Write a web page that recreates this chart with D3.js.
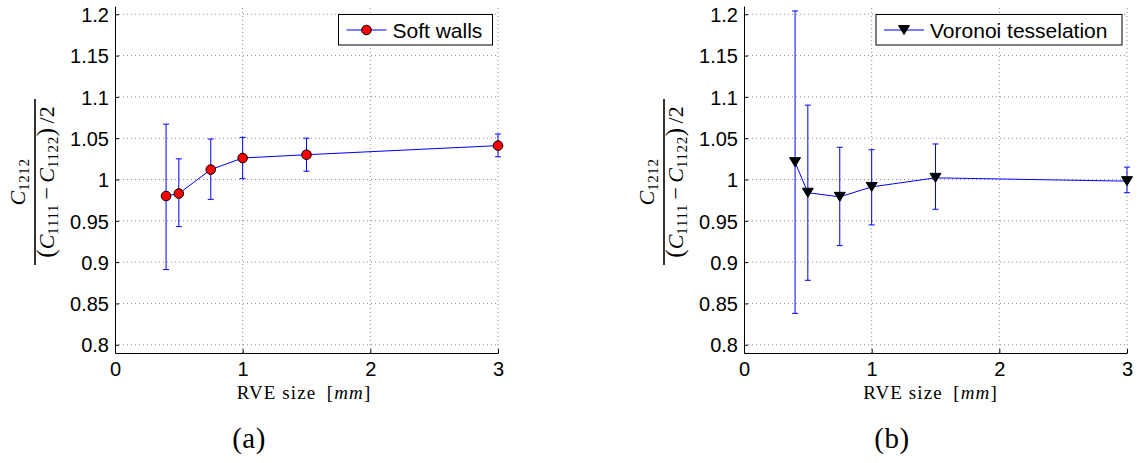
<!DOCTYPE html>
<html>
<head>
<meta charset="utf-8">
<script src="https://cdn.jsdelivr.net/npm/d3@7"></script>
<style>
  html, body { margin: 0; padding: 0; background: #fff; }
  svg { display: block; }
</style>
</head>
<body>
<svg id="chart" width="1139" height="463"></svg>
<script>
// ---------- data ----------
const rveSizes = [0.4, 0.5, 0.75, 1, 1.5, 3];

const softMean = [0.980, 0.983, 1.012, 1.026, 1.030, 1.041];
const softLow  = [0.891, 0.943, 0.976, 1.001, 1.010, 1.0275];
const softHigh = [1.067, 1.025, 1.049, 1.051, 1.050, 1.055];

const vorMean = [1.021, 0.984, 0.979, 0.991, 1.002, 0.998];
const vorLow  = [0.838, 0.878, 0.920, 0.945, 0.964, 0.984];
const vorHigh = [1.204, 1.090, 1.039, 1.036, 1.043, 1.015];

const xTicks = [0, 1, 2, 3];
const yTicks = [0.8, 0.85, 0.9, 0.95, 1, 1.05, 1.1, 1.15, 1.2];
const yTickLabels = ["0.8", "0.85", "0.9", "0.95", "1", "1.05", "1.1", "1.15", "1.2"];
const legendSoft = "Soft walls";
const legendVor = "Voronoi tesselation";
const xAxisTitle = ["RVE size", "mm"];
const panelLabels = ["(a)", "(b)"];

// ---------- drawing ----------
const svg = d3.select("#chart");
const sansFont = "'Liberation Sans', Arial, Helvetica, sans-serif";
const serifFont = "'Liberation Serif', 'Times New Roman', serif";
const blue = "#0000ff";

function drawPanel(cfg) {
  const x = d3.scaleLinear().domain([0, 3]).range([cfg.left, cfg.right]);
  const y = d3.scaleLinear().domain([0.79, 1.21]).range([353, 6]);
  const g = svg.append("g");

  // grid
  g.append("g").selectAll("line").data(yTicks).join("line")
    .attr("x1", x(0)).attr("x2", x(3))
    .attr("y1", d => y(d)).attr("y2", d => y(d))
    .attr("stroke", "#6e6e6e").attr("stroke-width", 0.8)
    .attr("stroke-dasharray", "1,3");
  g.append("g").selectAll("line").data(xTicks.slice(1)).join("line")
    .attr("x1", d => x(d)).attr("x2", d => x(d))
    .attr("y1", y(0.79)).attr("y2", y(1.21))
    .attr("stroke", "#6e6e6e").attr("stroke-width", 0.8)
    .attr("stroke-dasharray", "1,3");

  // axes
  const yAxis = d3.axisLeft(y).tickValues(yTicks)
    .tickFormat((d, i) => yTickLabels[i]).tickSizeInner(-4).tickSizeOuter(0).tickPadding(6);
  const ya = g.append("g").attr("transform", `translate(${x(0)},0)`).call(yAxis);
  ya.select(".domain").attr("stroke", "#000");
  ya.selectAll(".tick line").attr("stroke", "#000");
  ya.selectAll("text").attr("font-family", sansFont).attr("font-size", 20)
    .attr("fill", "#000").attr("dy", "0.36em");

  const xAxis = d3.axisBottom(x).tickValues(xTicks).tickFormat(d3.format("d"))
    .tickSizeInner(-4).tickSizeOuter(0).tickPadding(9);
  const xa = g.append("g").attr("transform", `translate(0,${y(0.79)})`).call(xAxis);
  xa.select(".domain").attr("stroke", "#000");
  xa.selectAll(".tick line").attr("stroke", "#000");
  xa.selectAll("text").attr("font-family", sansFont).attr("font-size", 20).attr("fill", "#000");

  // error bars
  const eb = g.append("g").attr("stroke", blue).attr("stroke-width", 1).attr("fill", "none");
  rveSizes.forEach((xv, i) => {
    const cx = x(xv);
    eb.append("line").attr("x1", cx).attr("x2", cx)
      .attr("y1", y(cfg.low[i])).attr("y2", y(cfg.high[i]));
    eb.append("line").attr("x1", cx - 3).attr("x2", cx + 3)
      .attr("y1", y(cfg.low[i])).attr("y2", y(cfg.low[i]));
    eb.append("line").attr("x1", cx - 3).attr("x2", cx + 3)
      .attr("y1", y(cfg.high[i])).attr("y2", y(cfg.high[i]));
  });

  // line
  const line = d3.line().x((d, i) => x(rveSizes[i])).y(d => y(d));
  g.append("path").datum(cfg.mean).attr("d", line)
    .attr("fill", "none").attr("stroke", blue).attr("stroke-width", 1);

  // markers
  const marker = (sel, px, py) => {
    if (cfg.markerType === "circle") {
      sel.append("circle").attr("cx", px).attr("cy", py).attr("r", 4.8)
        .attr("fill", "#ff0000").attr("stroke", "#000").attr("stroke-width", 1);
    } else {
      sel.append("path")
        .attr("d", `M${px - 5.5},${py - 4.5}L${px + 5.5},${py - 4.5}L${px},${py + 4.5}Z`)
        .attr("fill", "#000").attr("stroke", "#000").attr("stroke-width", 1);
    }
  };
  const mg = g.append("g");
  cfg.mean.forEach((v, i) => marker(mg, x(rveSizes[i]), y(v)));

  // legend
  const lg = g.append("g");
  lg.append("rect").attr("x", cfg.legX).attr("y", 14.5)
    .attr("width", cfg.legW).attr("height", 30.5)
    .attr("fill", "#fff").attr("stroke", "#000").attr("stroke-width", 1);
  lg.append("line").attr("x1", cfg.legX + 8).attr("x2", cfg.legX + 48)
    .attr("y1", 30).attr("y2", 30).attr("stroke", blue).attr("stroke-width", 1);
  marker(lg, cfg.legX + 28, 30);
  lg.append("text").attr("x", cfg.legX + 54).attr("y", 30).attr("dy", "0.36em")
    .attr("font-family", sansFont).attr("font-size", 21).attr("fill", "#000")
    .text(cfg.legend);

  // x axis title
  const xt = g.append("text").attr("x", cfg.titleX).attr("y", 399)
    .attr("text-anchor", "middle").attr("font-family", serifFont)
    .attr("font-size", 19).attr("letter-spacing", 1.1).attr("fill", "#000");
  xt.append("tspan").text(xAxisTitle[0] + "\u2002[");
  xt.append("tspan").attr("font-style", "italic").text(xAxisTitle[1]);
  xt.append("tspan").text("]");

  // panel label
  g.append("text").attr("x", cfg.panelX).attr("y", 448).attr("text-anchor", "middle")
    .attr("font-family", serifFont).attr("font-size", 29).attr("letter-spacing", 0.5)
    .attr("fill", "#000").text(cfg.panel);

  // y label (fraction)
  const fg = g.append("g").attr("transform", `translate(${cfg.fracX},182) rotate(-90)`);
  fg.append("line").attr("x1", -83).attr("x2", 83).attr("y1", 0).attr("y2", 0)
    .attr("stroke", "#000").attr("stroke-width", 1.6);
  const num = fg.append("text").attr("x", 0).attr("y", -10).attr("text-anchor", "middle")
    .attr("font-family", serifFont).attr("font-size", 22).attr("fill", "#000");
  num.append("tspan").attr("font-style", "italic").text("C");
  num.append("tspan").attr("font-size", 15).attr("dy", 4).attr("letter-spacing", 0.6).text("1212");
  const den = fg.append("text").attr("x", 0).attr("y", 19).attr("text-anchor", "middle")
    .attr("font-family", serifFont).attr("font-size", 22).attr("fill", "#000");
  den.append("tspan").attr("font-size", 25).text("(");
  den.append("tspan").attr("font-style", "italic").text("C");
  den.append("tspan").attr("font-size", 15).attr("dy", 4).attr("letter-spacing", 0.6).text("1111");
  den.append("tspan").attr("dy", -4).text("\u2009\u2212\u2009");
  den.append("tspan").attr("font-style", "italic").text("C");
  den.append("tspan").attr("font-size", 15).attr("dy", 4).attr("letter-spacing", 0.6).text("1122");
  den.append("tspan").attr("dy", -4).attr("font-size", 25).text(")");
  den.append("tspan").text("\u2009/2");
}

drawPanel({
  left: 115, right: 498, mean: softMean, low: softLow, high: softHigh,
  markerType: "circle", legend: legendSoft, legX: 338.5, legW: 154,
  titleX: 304, panelX: 249, panel: panelLabels[0], fracX: 35
});
drawPanel({
  left: 744, right: 1127, mean: vorMean, low: vorLow, high: vorHigh,
  markerType: "triangle", legend: legendVor, legX: 876, legW: 246,
  titleX: 930.5, panelX: 892, panel: panelLabels[1], fracX: 664
});
</script>
</body>
</html>
